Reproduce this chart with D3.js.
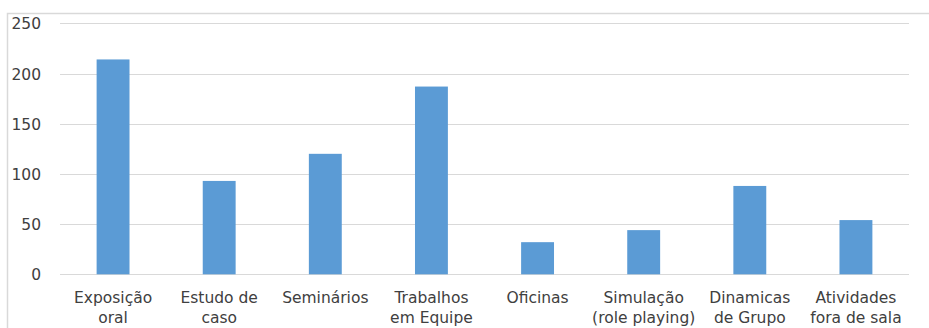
<!DOCTYPE html>
<html>
<head>
<meta charset="utf-8">
<script src="https://cdn.jsdelivr.net/npm/d3@7"></script>
<style>
  html, body { margin: 0; padding: 0; background: #fff; }
  svg { display: block; }
  text { font-family: "DejaVu Sans", sans-serif; fill: #404040; }
</style>
</head>
<body>
<div id="chart"></div>
<script>
// Teaching methods and the number of mentions for each
const categories = [
  ["Exposição", "oral"],
  ["Estudo de", "caso"],
  ["Seminários"],
  ["Trabalhos", "em Equipe"],
  ["Oficinas"],
  ["Simulação", "(role playing)"],
  ["Dinamicas", "de Grupo"],
  ["Atividades", "fora de sala"]
];
const values = [214, 93, 120, 187, 32, 44, 88, 54];
const yTicks = [0, 50, 100, 150, 200, 250];

const width = 929, height = 328;
const margin = { top: 23.3, right: 20, bottom: 54, left: 60 };

const svg = d3.select("#chart").append("svg")
  .attr("width", width).attr("height", height);

// chart area frame (extends past the right and bottom edges)
svg.append("rect")
  .attr("x", 7.5).attr("y", 13.5)
  .attr("width", width + 10).attr("height", height + 10)
  .attr("fill", "none").attr("stroke", "#d9d9d9").attr("stroke-width", 1.5);

const keys = categories.map(c => c.join(" "));

const x = d3.scaleBand()
  .domain(keys)
  .range([60, 909])
  .paddingInner(0).paddingOuter(0);

const y = d3.scaleLinear()
  .domain([0, 250])
  .range([274.3, 23.3]);

// horizontal gridlines
svg.append("g")
  .selectAll("line")
  .data(yTicks)
  .join("line")
  .attr("x1", 60).attr("x2", 909)
  .attr("y1", d => Math.round(y(d)) + 0.5)
  .attr("y2", d => Math.round(y(d)) + 0.5)
  .attr("stroke", "#d9d9d9").attr("stroke-width", 1);

// y-axis labels
const yAxis = d3.axisLeft(y).tickValues(yTicks).tickSize(0).tickPadding(0);
const gy = svg.append("g").attr("transform", "translate(41,0)").call(yAxis);
gy.select(".domain").remove();
gy.selectAll("text")
  .attr("font-size", "15.5px")
  .attr("font-family", "DejaVu Sans, sans-serif")
  .attr("fill", "#404040")
  .attr("dy", "0.36em");

// bars
const barW = x.bandwidth() * 0.31;
svg.append("g")
  .selectAll("rect")
  .data(values)
  .join("rect")
  .attr("x", (d, i) => x(keys[i]) + (x.bandwidth() - barW) / 2)
  .attr("y", d => y(d))
  .attr("width", barW)
  .attr("height", d => y(0) - y(d))
  .attr("fill", "#5b9bd5");

// category labels (two lines where needed)
const xAxis = d3.axisBottom(x).tickSize(0).tickFormat(() => "");
const gx = svg.append("g").attr("transform", `translate(0,${y(0)})`).call(xAxis);
gx.select(".domain").remove();
gx.selectAll(".tick").each(function(d, i) {
  const t = d3.select(this).append("text")
    .attr("text-anchor", "middle")
    .attr("font-size", "15.5px")
    .attr("fill", "#404040");
  categories[i].forEach((line, j) => {
    t.append("tspan").attr("x", 0).attr("y", 29 + j * 20).text(line);
  });
});
</script>
</body>
</html>
